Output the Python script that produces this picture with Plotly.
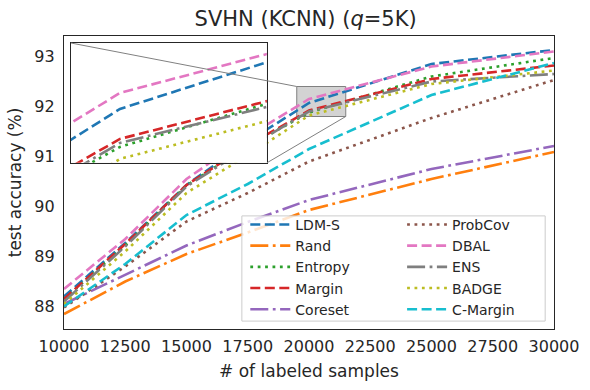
import plotly.graph_objects as go

# budgets (# of labeled samples)
samples = [10000, 12500, 15000, 17500, 20000, 25000, 30000]

# test accuracy (%)
ldm_s = [88.20, 89.27, 90.43, 91.30, 92.07, 92.85, 93.13]
rand = [87.85, 88.50, 89.05, 89.48, 89.93, 90.55, 91.09]
entropy = [88.15, 89.22, 90.42, 91.20, 91.88, 92.60, 92.97]
margin = [88.15, 89.25, 90.43, 91.22, 91.92, 92.55, 92.82]
coreset = [88.05, 88.63, 89.22, 89.69, 90.13, 90.75, 91.21]
probcov = [87.98, 88.80, 89.70, 90.27, 90.90, 91.77, 92.53]
dbal = [88.35, 89.35, 90.55, 91.40, 92.15, 92.80, 93.10]
ens = [88.10, 89.20, 90.40, 91.18, 91.90, 92.50, 92.65]
badge = [88.05, 89.10, 90.27, 91.03, 91.82, 92.45, 92.72]
c_margin = [88.00, 88.85, 89.83, 90.45, 91.15, 92.23, 92.87]

x_ticks = [10000, 12500, 15000, 17500, 20000, 22500, 25000, 27500, 30000]
y_ticks = [88, 89, 90, 91, 92, 93]

names = ["LDM-S", "Rand", "Entropy", "Margin", "Coreset",
         "ProbCov", "DBAL", "ENS", "BADGE", "C-Margin"]
series = [ldm_s, rand, entropy, margin, coreset,
          probcov, dbal, ens, badge, c_margin]
colors = ["#1f77b4", "#ff7f0e", "#2ca02c", "#d62728", "#9467bd",
          "#8c564b", "#e377c2", "#7f7f7f", "#bcbd22", "#17becf"]

# matplotlib-like dash patterns
DASH = "10px,4.5px"
DOT = "2.8px,4.6px"
DASHDOT = "18px,4.5px,2.8px,4.5px"
dashes = [DASH, DASHDOT, DOT, DASH, DASHDOT, DOT, DASH, DASHDOT, DOT, DASH]

x_range = [10000, 30000]
y_range = [87.55, 93.41]
zoom_x = [19500, 21500]
zoom_y = [91.8, 92.4]
inset_dx = [0.0143, 0.414]
inset_dy = [0.567, 0.976]

TXT = "#262626"
FONT = "DejaVu Sans"

fig = go.Figure()

for i, (name, ys) in enumerate(zip(names, series)):
    fig.add_trace(go.Scatter(
        x=samples, y=ys, name=name, mode="lines",
        line=dict(color=colors[i], width=2.6, dash=dashes[i]),
        legend="legend" if i < 5 else "legend2",
        xaxis="x", yaxis="y",
    ))

for i, (name, ys) in enumerate(zip(names, series)):
    fig.add_trace(go.Scatter(
        x=samples, y=ys, name=name, mode="lines", showlegend=False,
        line=dict(color=colors[i], width=2.6, dash=dashes[i]),
        xaxis="x2", yaxis="y2",
    ))

# zoomed region on the main axes
fig.add_shape(type="rect", xref="x", yref="y",
              x0=zoom_x[0], x1=zoom_x[1], y0=zoom_y[0], y1=zoom_y[1],
              fillcolor="lightgray", line=dict(color="#808080", width=1),
              layer="below")

# inset background
fig.add_shape(type="rect", xref="x2 domain", yref="y2 domain",
              x0=0, x1=1, y0=0, y1=1, fillcolor="lightgray",
              line=dict(width=0), layer="below")


def to_main(dx, dy):
    return (x_range[0] + dx * (x_range[1] - x_range[0]),
            y_range[0] + dy * (y_range[1] - y_range[0]))


tl = to_main(inset_dx[0], inset_dy[1])
br = to_main(inset_dx[1], inset_dy[0])
fig.add_shape(type="line", xref="x", yref="y", x0=tl[0], y0=tl[1],
              x1=zoom_x[0], y1=zoom_y[1], line=dict(color="#808080", width=1))
fig.add_shape(type="line", xref="x", yref="y", x0=br[0], y0=br[1],
              x1=zoom_x[1], y1=zoom_y[0], line=dict(color="#808080", width=1))

# legend frame shared by both columns
fig.add_shape(type="rect", xref="paper", yref="paper",
              x0=0.363, x1=0.982, y0=0.027, y1=0.386,
              fillcolor="rgba(255,255,255,0.8)",
              line=dict(color="#cccccc", width=1), layer="above")

legend_style = dict(bgcolor="rgba(0,0,0,0)", borderwidth=0,
                    font=dict(family=FONT, size=14, color=TXT),
                    xanchor="left", yanchor="top", tracegroupgap=0,
                    itemwidth=40)

fig.update_layout(
    width=590, height=390, autosize=False,
    margin=dict(l=64, r=36, t=36, b=61),
    paper_bgcolor="white", plot_bgcolor="white",
    font=dict(family=FONT, color=TXT),
    title=dict(text="SVHN (KCNN) (<i>q</i>=5K)", x=0.518, xanchor="center",
               y=0.951, yanchor="middle",
               font=dict(family=FONT, size=21, color=TXT)),
    xaxis=dict(range=x_range, domain=[0, 1], tickvals=x_ticks,
               ticktext=[str(v) for v in x_ticks], automargin=False,
               showgrid=False, zeroline=False, showline=True, mirror=True,
               linecolor=TXT, linewidth=1.25,
               ticks="outside", ticklen=3, tickcolor="rgba(0,0,0,0)",
               tickfont=dict(size=16), title=dict(text="# of labeled samples",
                                                  font=dict(size=17), standoff=9)),
    yaxis=dict(range=y_range, domain=[0, 1], tickvals=y_ticks, automargin=False,
               showgrid=False, zeroline=False, showline=True, mirror=True,
               linecolor=TXT, linewidth=1.25,
               ticks="outside", ticklen=5, tickcolor="rgba(0,0,0,0)",
               tickfont=dict(size=16), title=dict(text="test accuracy (%)",
                                                  font=dict(size=17), standoff=8)),
    xaxis2=dict(range=zoom_x, domain=inset_dx, anchor="y2",
                showticklabels=False, ticks="", showgrid=False, zeroline=False,
                showline=True, mirror=True, linecolor=TXT, linewidth=1.25),
    yaxis2=dict(range=zoom_y, domain=inset_dy, anchor="x2",
                showticklabels=False, ticks="", showgrid=False, zeroline=False,
                showline=True, mirror=True, linecolor=TXT, linewidth=1.25),
    legend=dict(x=0.37, y=0.41, **legend_style),
    legend2=dict(x=0.69, y=0.41, **legend_style),
)

# drop the browser's default 8px body margin so the figure sits at (0, 0)
fig.write_html("out.html", config={"displayModeBar": False},
               post_script="document.body.style.margin = '0';")
